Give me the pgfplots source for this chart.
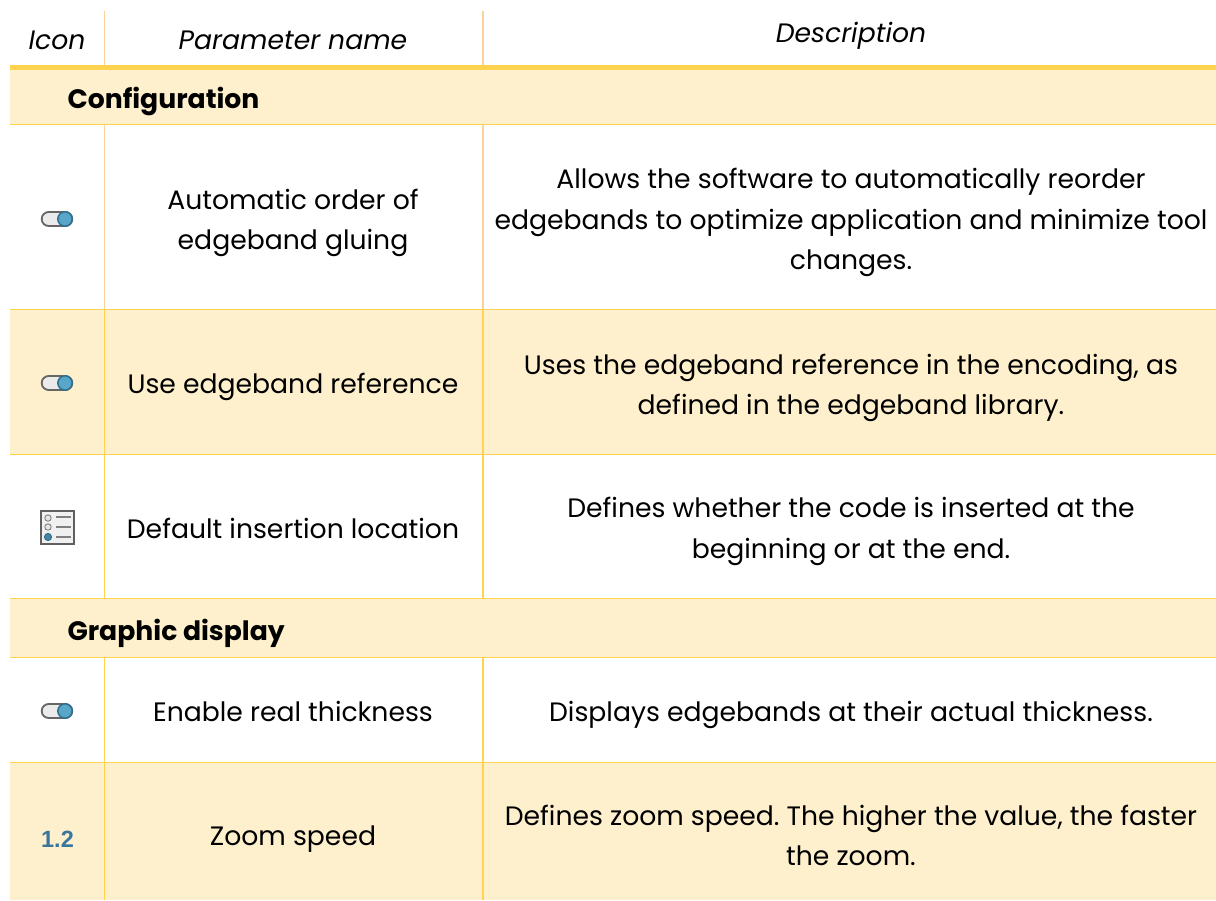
\documentclass[border=0pt]{standalone}
\usepackage{pgfplots}
\pgfplotsset{compat=1.18}
\usepackage{fontspec}
\setmainfont{Poppins}
\newfontfamily\numfont{Liberation Sans}
\definecolor{rowfill}{HTML}{FEF0CC}
\definecolor{ylw}{HTML}{FFD24F}
\definecolor{org}{HTML}{FDD09C}
\definecolor{togblue}{HTML}{58A6C8}
\definecolor{togedge}{HTML}{2F6F8F}
\definecolor{numblue}{HTML}{3A759C}
\newcommand{\T}{\fontsize{26.65}{40.5}\selectfont\frenchspacing}
\newcommand{\toggle}[1]{%
  \addplot[draw=gray!80!black,line width=16.5pt,line cap=round] coordinates {(49,#1) (65,#1)};
  \addplot[draw=gray!16,line width=12.5pt,line cap=round] coordinates {(49,#1) (65,#1)};
  \addplot[only marks,mark=*,mark size=7.2pt,mark options={draw=togedge,fill=togblue,line width=1.5pt}] coordinates {(65,#1)};
}
\begin{document}
\begin{tikzpicture}[x=1pt,y=1pt]
\begin{axis}[
  scale only axis,width=1216pt,height=900pt,
  xmin=0,xmax=1216,ymin=0,ymax=900,y dir=reverse,
  axis lines=none,clip=true,
  every axis plot/.append style={forget plot},
]
% page background
\addplot[fill=white,draw=none] coordinates {(0,0) (1216,0) (1216,900) (0,900)} -- cycle;
% shaded rows
\addplot[fill=rowfill,draw=none] coordinates {(10,66) (1216,66) (1216,124) (10,124)} -- cycle;
\addplot[fill=rowfill,draw=none] coordinates {(10,309) (1216,309) (1216,454) (10,454)} -- cycle;
\addplot[fill=rowfill,draw=none] coordinates {(10,598) (1216,598) (1216,657) (10,657)} -- cycle;
\addplot[fill=rowfill,draw=none] coordinates {(10,762) (1216,762) (1216,900) (10,900)} -- cycle;
% vertical rules
\addplot[draw=org,line width=1.3pt] coordinates {(104.6,11) (104.6,66)};
\addplot[draw=org,line width=1.9pt] coordinates {(483,11) (483,66)};
\addplot[draw=org,line width=1.3pt] coordinates {(104.6,124) (104.6,309)};
\addplot[draw=org,line width=1.9pt] coordinates {(483,124) (483,309)};
\addplot[draw=ylw,line width=1.2pt] coordinates {(104.6,309) (104.6,598)};
\addplot[draw=ylw,line width=1.7pt] coordinates {(483,309) (483,598)};
\addplot[draw=ylw,line width=1.2pt] coordinates {(104.6,657) (104.6,900)};
\addplot[draw=ylw,line width=1.7pt] coordinates {(483,657) (483,900)};
% horizontal rules
\addplot[draw=ylw,line width=5pt] coordinates {(10,67.5) (1216,67.5)};
\addplot[draw=ylw,line width=1pt] coordinates {(10,124) (1216,124)};
\addplot[draw=ylw,line width=1pt] coordinates {(10,309) (1216,309)};
\addplot[draw=ylw,line width=1pt] coordinates {(10,454) (1216,454)};
\addplot[draw=ylw,line width=1pt] coordinates {(10,598) (1216,598)};
\addplot[draw=ylw,line width=1pt] coordinates {(10,657) (1216,657)};
\addplot[draw=ylw,line width=1pt] coordinates {(10,762) (1216,762)};
% toggles
\toggle{219}
\toggle{383}
\toggle{711}
% list icon
\addplot[fill=gray!12,draw=gray!75!black,line width=1.4pt] coordinates {(41,511) (74,511) (74,544) (41,544)} -- cycle;
\addplot[only marks,mark=*,mark size=3.2pt,mark options={draw=gray,fill=gray!20,line width=.9pt}] coordinates {(48,518) (48,527)};
\addplot[only marks,mark=*,mark size=3.6pt,mark options={draw=togedge,fill=togblue!80!black,line width=.9pt}] coordinates {(48,537)};
\addplot[draw=gray,line width=1.8pt] coordinates {(56,517) (71,517)};
\addplot[draw=gray,line width=1.8pt] coordinates {(56,527) (71,527)};
\addplot[draw=gray,line width=1.8pt] coordinates {(56,537) (71,537)};
% text
\node[font=\T\itshape] at (axis cs:57,40) {Icon};
\node[font=\T\itshape] at (axis cs:293,40) {Parameter name};
\node[font=\T\itshape] at (axis cs:851,36) {Description};
\node[font=\T\bfseries,anchor=west] at (axis cs:64,101) {Configuration};
\node[font=\T\bfseries,anchor=west] at (axis cs:64,633) {Graphic display};
\node[font=\T,align=center] at (axis cs:293,223) {Automatic order of\\edgeband gluing};
\node[font=\T,align=center] at (axis cs:851,222.5) {Allows the software to automatically reorder\\edgebands to optimize application and minimize tool\\changes.};
\node[font=\T] at (axis cs:293,387) {Use edgeband reference};
\node[font=\T,align=center] at (axis cs:851,388) {Uses the edgeband reference in the encoding, as\\defined in the edgeband library.};
\node[font=\T] at (axis cs:293,528) {Default insertion location};
\node[font=\T,align=center] at (axis cs:851,531.5) {Defines whether the code is inserted at the\\beginning or at the end.};
\node[font=\T] at (axis cs:293,711) {Enable real thickness};
\node[font=\T] at (axis cs:851,715) {Displays edgebands at their actual thickness.};
\node[font=\T] at (axis cs:293,839) {Zoom speed};
\node[font=\T,align=center] at (axis cs:851,835.5) {Defines zoom speed. The higher the value, the faster\\the zoom.};
\node[font=\fontsize{23.5}{26}\selectfont\numfont\bfseries,text=numblue] at (axis cs:57.5,839) {1.2};
\end{axis}
\end{tikzpicture}
\end{document}
